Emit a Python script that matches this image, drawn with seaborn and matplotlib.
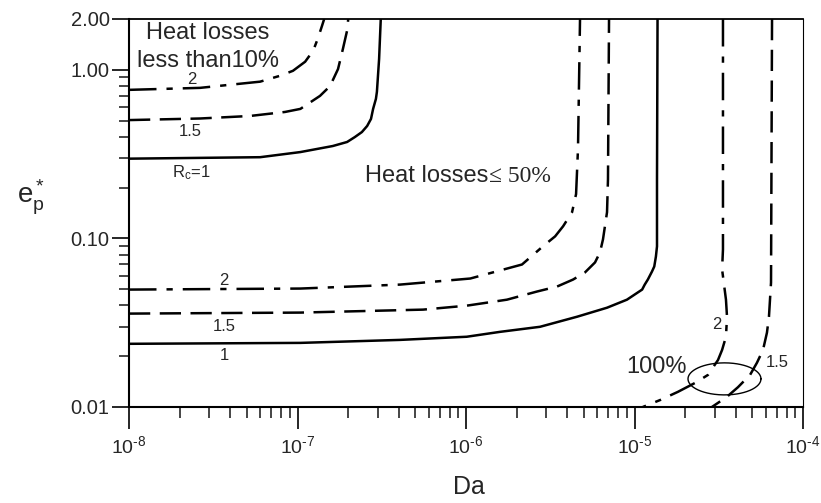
import numpy as np
import pandas as pd
import matplotlib
matplotlib.use("Agg")
import matplotlib.pyplot as plt
import seaborn as sns
from matplotlib.ticker import FixedLocator, FixedFormatter, LogLocator, NullFormatter

# ---- data (Da, e_p*) ----
# Heat losses less than 10 %
da_10_r1 = [1e-8, 6.0e-8, 1.04e-7, 1.62e-7, 1.97e-7, 2.19e-7, 2.41e-7, 2.59e-7, 2.73e-7, 2.81e-7,
            2.92e-7, 2.96e-7, 3.05e-7, 3.12e-7]
ep_10_r1 = [0.297, 0.303, 0.325, 0.353, 0.373, 0.399, 0.427, 0.464, 0.511, 0.586,
            0.672, 0.74, 1.16, 2.0]
da_10_r15 = [1e-8, 2.64e-8, 5.22e-8, 8.43e-8, 1.04e-7, 1.36e-7, 1.56e-7, 1.74e-7, 1.86e-7, 1.97e-7, 2.0e-7]
ep_10_r15 = [0.503, 0.514, 0.532, 0.562, 0.586, 0.70, 0.80, 1.01, 1.33, 1.71, 2.0]
da_10_r2 = [1e-8, 2.64e-8, 6.0e-8, 7.87e-8, 9.4e-8, 1.11e-7, 1.24e-7, 1.32e-7, 1.40e-7, 1.44e-7]
ep_10_r2 = [0.760, 0.781, 0.850, 0.921, 0.986, 1.116, 1.30, 1.53, 1.83, 2.0]
# Heat losses <= 50 %
da_50_r1 = [1e-8, 1.04e-7, 4.06e-7, 1.01e-6, 1.59e-6, 2.75e-6, 4.56e-6, 6.87e-6, 9.02e-6,
            1.11e-5, 1.15e-5, 1.20e-5, 1.27e-5, 1.31e-5, 1.34e-5, 1.36e-5, 1.36e-5, 1.37e-5]
ep_50_r1 = [0.0237, 0.0240, 0.0250, 0.0261, 0.0279, 0.0299, 0.0343, 0.0388, 0.0433,
            0.0497, 0.0532, 0.057, 0.0636, 0.0681, 0.0781, 0.0897, 0.224, 2.0]
da_50_r15 = [1e-8, 1.04e-7, 5.56e-7, 1.01e-6, 1.75e-6, 2.64e-6, 3.47e-6, 4.32e-6, 5.08e-6,
             5.83e-6, 6.24e-6, 6.50e-6, 6.87e-6, 6.96e-6, 7.06e-6]
ep_50_r15 = [0.0358, 0.0363, 0.0378, 0.0399, 0.0433, 0.0484, 0.0518, 0.057, 0.0628,
             0.072, 0.0826, 0.0986, 0.143, 0.224, 2.0]
da_50_r2 = [1e-8, 1.04e-7, 4.06e-7, 1.06e-6, 2.15e-6, 2.86e-6, 3.38e-6, 3.77e-6, 4.26e-6,
            4.50e-6, 4.62e-6, 4.75e-6]
ep_50_r2 = [0.0497, 0.0504, 0.0532, 0.0578, 0.070, 0.0897, 0.1028, 0.118, 0.143,
            0.183, 0.339, 2.0]
# Heat losses 100 %
da_100_r2 = [3.35e-5, 3.35e-5, 3.31e-5, 3.49e-5, 3.54e-5, 3.49e-5, 3.31e-5, 3.13e-5, 2.73e-5,
             2.29e-5, 1.81e-5, 1.42e-5, 1.12e-5]
ep_100_r2 = [2.0, 0.086, 0.0654, 0.0433, 0.0343, 0.0261, 0.0218, 0.0190, 0.0155,
             0.0139, 0.0123, 0.0110, 0.0100]
da_100_r15 = [6.55e-5, 6.46e-5, 6.28e-5, 6.11e-5, 5.79e-5, 5.33e-5, 4.85e-5, 4.11e-5, 3.54e-5, 2.88e-5]
ep_100_r15 = [2.0, 0.0547, 0.0343, 0.0276, 0.0218, 0.0183, 0.0155, 0.0131, 0.0115, 0.0100]

y_ticks = [0.01, 0.1, 1.0, 2.0]
y_tick_labels = ["0.01", "0.10", "1.00", "2.00"]
y_minor = [0.02, 0.03, 0.04, 0.05, 0.06, 0.07, 0.08, 0.09,
           0.2, 0.3, 0.4, 0.5, 0.6, 0.7, 0.8, 0.9]
x_ticks = [1e-8, 1e-7, 1e-6, 1e-5, 1e-4]
x_tick_labels = [r"$\mathregular{10^{\text{-}8}}$", r"$\mathregular{10^{\text{-}7}}$",
                 r"$\mathregular{10^{\text{-}6}}$", r"$\mathregular{10^{\text{-}5}}$",
                 r"$\mathregular{10^{\text{-}4}}$"]

# ---- style ----
sns.set_style("ticks")
plt.rcParams["font.family"] = ["Liberation Sans", "DejaVu Sans"]
plt.rcParams["mathtext.fontset"] = "custom"
plt.rcParams["mathtext.rm"] = "Liberation Sans"
plt.rcParams["mathtext.it"] = "Liberation Sans:italic"

fig = plt.figure(figsize=(8.21, 5.03), dpi=100)
ax = fig.add_axes([129 / 821, 96 / 503, 674 / 821, 388 / 503])
ax.set_xscale("log")
ax.set_yscale("log")

solid = "-"
dashed = (0, (8.5, 3.8))
dashdot = (0, (11, 4, 2.5, 4))
lw = 1.8

curves = [
    (da_10_r1, ep_10_r1, solid), (da_10_r15, ep_10_r15, dashed), (da_10_r2, ep_10_r2, dashdot),
    (da_50_r1, ep_50_r1, solid), (da_50_r15, ep_50_r15, dashed), (da_50_r2, ep_50_r2, dashdot),
    (da_100_r2, ep_100_r2, dashdot), (da_100_r15, ep_100_r15, dashed),
]
for xs, ys, ls in curves:
    df = pd.DataFrame({"Da": xs, "ep": ys})
    sns.lineplot(data=df, x="Da", y="ep", sort=False, estimator=None, ax=ax,
                 color="black", linewidth=lw, linestyle=ls)

# ellipse marking the 100 % region (drawn in log space)
t = np.linspace(0, 2 * np.pi, 300)
cx, cy, a, b = np.log10(3.42e-5), np.log10(0.01468), 0.2165, 0.095
ax.plot(10 ** (cx + a * np.cos(t)), 10 ** (cy + b * np.sin(t)), color="black", lw=1.0)

ax.set_xlim(1e-8, 1e-4)
ax.set_ylim(0.01, 2.0)

# ticks
ax.yaxis.set_major_locator(FixedLocator(y_ticks))
ax.yaxis.set_major_formatter(FixedFormatter(y_tick_labels))
ax.yaxis.set_minor_locator(FixedLocator(y_minor))
ax.yaxis.set_minor_formatter(NullFormatter())
ax.xaxis.set_major_locator(FixedLocator(x_ticks))
ax.xaxis.set_major_formatter(FixedFormatter(x_tick_labels))
ax.xaxis.set_minor_locator(LogLocator(base=10, subs=np.arange(2, 10)))
ax.xaxis.set_minor_formatter(NullFormatter())

ax.tick_params(axis="x", which="major", direction="out", length=16, width=1.4, pad=4, labelsize=14)
ax.tick_params(axis="x", which="minor", direction="out", length=8, width=1.2)
ax.tick_params(axis="y", which="major", direction="out", length=12, width=1.4, pad=2, labelsize=14.5)
ax.tick_params(axis="y", which="minor", direction="out", length=7, width=1.2)

for side, w in [("left", 1.5), ("bottom", 1.5), ("top", 1.3), ("right", 0.8)]:
    ax.spines[side].set_visible(True)
    ax.spines[side].set_linewidth(w)
    ax.spines[side].set_color("black")

ax.set_xlabel("Da", fontsize=18, labelpad=12)
ax.set_ylabel(r"$\mathregular{e_p^*}$", fontsize=20, rotation=0)
ax.yaxis.set_label_coords(-0.145, 0.49)
ax.xaxis.set_label_coords(0.505, -0.175)

# annotations
ax.text(2.94e-8, 1.66, "Heat losses", fontsize=17, ha="center", va="center")
ax.text(2.94e-8, 1.12, "less than10%", fontsize=17, ha="center", va="center")
ax.text(2.37e-8, 0.871, "2", fontsize=12, ha="center", va="center")
ax.text(2.30e-8, 0.428, "1.5", fontsize=12, ha="center", va="center")
ax.text(2.35e-8, 0.247, r"$\mathregular{R_c}$=1", fontsize=12, ha="center", va="center")

ax.text(2.52e-7, 0.234, "Heat losses", fontsize=17, ha="left", va="center")
ax.text(1.36e-6, 0.234, "\u2264 50%", fontsize=17, ha="left", va="center",
        family=["Liberation Serif", "DejaVu Serif"])
ax.text(3.66e-8, 0.0562, "2", fontsize=12, ha="center", va="center")
ax.text(3.70e-8, 0.0299, "1.5", fontsize=12, ha="center", va="center")
ax.text(3.70e-8, 0.0201, "1", fontsize=12, ha="center", va="center")

ax.text(3.09e-5, 0.0308, "2", fontsize=12, ha="center", va="center")
ax.text(7.01e-5, 0.0183, "1.5", fontsize=12, ha="center", va="center")
ax.text(2.05e-5, 0.0173, "100%", fontsize=17, ha="right", va="center")

fig.savefig("out.png", dpi=100)
